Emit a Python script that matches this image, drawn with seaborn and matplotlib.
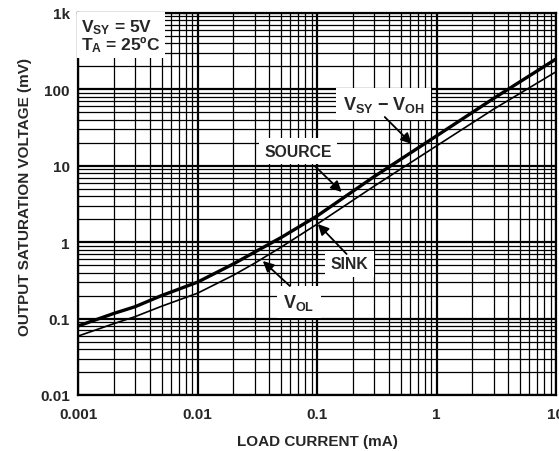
import matplotlib
matplotlib.use("Agg")
import matplotlib.pyplot as plt
import matplotlib.ticker as mticker
import numpy as np
import pandas as pd
import seaborn as sns

# ---- data ----
load_current_ma = [0.001, 0.002, 0.003, 0.005, 0.01, 0.02, 0.03, 0.05, 0.1, 0.3, 1, 3, 10]
source_mv = [0.080, 0.117, 0.143, 0.20, 0.30, 0.52, 0.74, 1.15, 2.2, 7.2, 24.6, 76, 250]
sink_mv = [0.059, 0.086, 0.106, 0.145, 0.215, 0.37, 0.53, 0.86, 1.72, 5.4, 18.2, 55, 170]

x_ticks = [0.001, 0.01, 0.1, 1, 10]
x_tick_labels = ["0.001", "0.01", "0.1", "1", "10"]
y_ticks = [0.01, 0.1, 1, 10, 100, 1000]
y_tick_labels = ["0.01", "0.1", "1", "10", "100", "1k"]

df = pd.DataFrame({
    "current": load_current_ma * 2,
    "voltage": source_mv + sink_mv,
    "series": ["SOURCE"] * len(source_mv) + ["SINK"] * len(sink_mv),
})

sns.set_theme(style="white")
plt.rcParams["font.family"] = ["Liberation Sans", "DejaVu Sans"]
plt.rcParams["font.weight"] = "bold"
plt.rcParams["mathtext.fontset"] = "custom"
plt.rcParams["mathtext.rm"] = "Liberation Sans:bold"
plt.rcParams["mathtext.it"] = "Liberation Sans:bold"
plt.rcParams["mathtext.bf"] = "Liberation Sans:bold"

fig = plt.figure(figsize=(5.59, 4.52), dpi=100)
ax = fig.add_axes([78 / 559, 56 / 452, 478 / 559, 382 / 452])

sns.lineplot(data=df, x="current", y="voltage", hue="series", size="series",
             sizes={"SOURCE": 2.4, "SINK": 1.2},
             palette={"SOURCE": "black", "SINK": "black"},
             legend=False, ax=ax, zorder=3)

ax.set_xscale("log")
ax.set_yscale("log")
ax.set_xlim(0.001, 10)
ax.set_ylim(0.01, 1000)

ax.set_xticks(x_ticks)
ax.set_xticklabels(x_tick_labels)
ax.set_yticks(y_ticks)
ax.set_yticklabels(y_tick_labels)
ax.xaxis.set_minor_locator(mticker.LogLocator(base=10, subs=np.arange(2, 10)))
ax.yaxis.set_minor_locator(mticker.LogLocator(base=10, subs=np.arange(2, 10)))
ax.xaxis.set_minor_formatter(mticker.NullFormatter())
ax.yaxis.set_minor_formatter(mticker.NullFormatter())

ax.tick_params(which="both", length=0)
ax.tick_params(axis="x", pad=9, labelsize=11)
ax.tick_params(axis="y", pad=6, labelsize=11)
for lab in ax.get_xticklabels() + ax.get_yticklabels():
    lab.set_fontweight("bold")

ax.grid(which="major", color="black", lw=1.6)
ax.grid(which="minor", color="black", lw=0.9)
ax.set_axisbelow(True)
for sp in ax.spines.values():
    sp.set_color("black")
    sp.set_linewidth(1.6)

ax.set_xlabel("LOAD CURRENT (mA)", fontsize=11, fontweight="bold")
ax.set_ylabel("OUTPUT SATURATION VOLTAGE (mV)", fontsize=11, fontweight="bold")
ax.xaxis.label.set_va("center")
ax.yaxis.label.set_va("center")
ax.xaxis.set_label_coords(0.5, -0.12)
ax.yaxis.set_label_coords(-0.111, 0.522)

box = dict(facecolor="white", edgecolor="none", boxstyle="square,pad=0.35")
arrow = dict(arrowstyle="-|>", color="black", lw=1.3, mutation_scale=16,
             shrinkA=0, shrinkB=0)

ax.text(0.006, 0.99, "$V_{SY}$ = 5V\n$T_A$ = 25ºC", transform=ax.transAxes,
        ha="left", va="top", fontsize=12.5, fontweight="bold", linespacing=0.9,
        bbox=dict(facecolor="white", edgecolor="none", boxstyle="square,pad=0.25"),
        zorder=5)

ax.text(0.069, 15.6, "SOURCE", ha="center", va="center", fontsize=11.3,
        fontweight="bold", bbox=box, zorder=5)
ax.annotate("", xy=(0.161, 4.54), xytext=(0.096, 9.9), arrowprops=arrow, zorder=6)

ax.text(0.188, 0.52, "SINK", ha="center", va="center", fontsize=11.3,
        fontweight="bold", bbox=box, zorder=5)
ax.annotate("", xy=(0.1016, 1.73), xytext=(0.177, 0.70), arrowprops=arrow, zorder=6)

ax.text(0.0705, 0.165, "$V_{OL}$", ha="center", va="center", fontsize=13,
        fontweight="bold", bbox=box, zorder=5)
ax.annotate("", xy=(0.0352, 0.567), xytext=(0.0593, 0.267), arrowprops=arrow, zorder=6)

ax.text(0.362, 64.4, "$V_{SY}$ − $V_{OH}$", ha="center", va="center", fontsize=13,
        fontweight="bold", bbox=box, zorder=5)
ax.annotate("", xy=(0.621, 19.3), xytext=(0.369, 43.5), arrowprops=arrow, zorder=6)

fig.savefig("out.png", dpi=100)
